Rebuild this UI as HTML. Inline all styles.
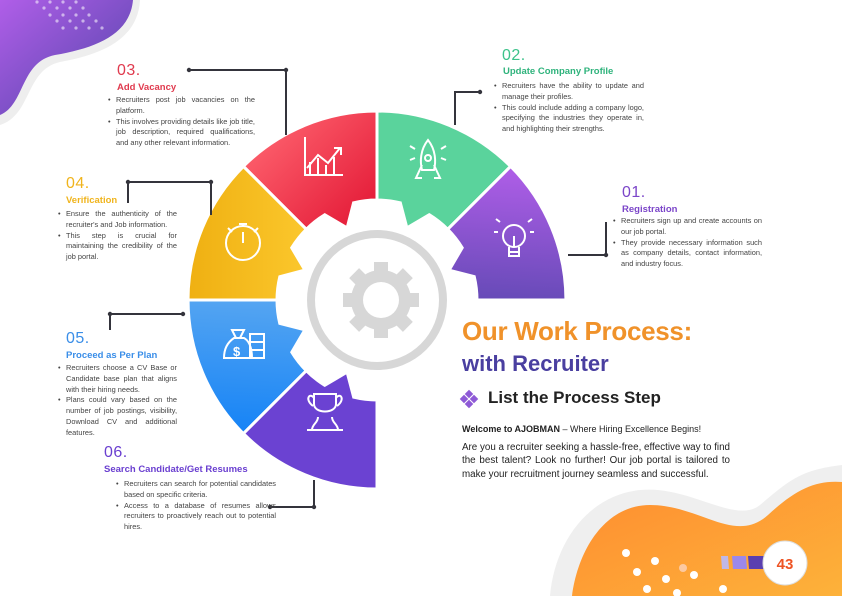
<!DOCTYPE html>
<html><head><meta charset="utf-8"><style>
body{margin:0;width:842px;height:596px;overflow:hidden;background:#fff;position:relative;font-family:"Liberation Sans",sans-serif;color:#444}
.abs{position:absolute}
.num{position:absolute;font-size:16px;font-weight:300;letter-spacing:.5px}
.tt{position:absolute;font-size:9.5px;font-weight:bold}
ul{position:absolute;margin:0;padding:0 0 0 8px;font-size:7.4px;line-height:10.8px;text-align:justify;color:#444}
li{list-style:none;position:relative}
li:before{content:"•";position:absolute;left:-8px}
</style></head><body>
<svg class="abs" style="left:0;top:0" width="842" height="596">
<defs>
<linearGradient id="gp" x1="0" y1="0" x2="1" y2="1"><stop offset="0" stop-color="#b05ee8"/><stop offset="1" stop-color="#4f44a8"/></linearGradient>
<linearGradient id="gp2" x1="0" y1="0" x2="1" y2="1"><stop offset="0" stop-color="#b05ee8"/><stop offset="1" stop-color="#4f44a8"/></linearGradient>
<linearGradient id="gr" x1="0" y1="0" x2="0" y2="1"><stop offset="0" stop-color="#fb5a68"/><stop offset="1" stop-color="#e51e3a"/></linearGradient>
<linearGradient id="gy" x1="0" y1="0" x2="0" y2="1"><stop offset="0" stop-color="#efb012"/><stop offset="1" stop-color="#fbc72c"/></linearGradient>
<linearGradient id="gb" x1="1" y1="1" x2="0" y2="0"><stop offset="0" stop-color="#6ab0f0"/><stop offset="1" stop-color="#1583f6"/></linearGradient>
<linearGradient id="go" x1="0" y1="0" x2="1" y2="1"><stop offset="0" stop-color="#fe8c30"/><stop offset="1" stop-color="#fdb23a"/></linearGradient>
<path id="seg" d="M0,-189 A189,189 0 0 1 133.6,-133.6 L70.7,-70.7 A100,100 0 0 0 52.2,-85.3 L29.9,-72.1 L23.3,-97.2 A100,100 0 0 0 0,-100 Z"/>
</defs>
<path d="M0,0 H140 C138,40 100,55 60,62 C25,70 32,115 0,125 Z" fill="#eee"/>
<path d="M0,0 H133 C130,35 95,48 55,55 C20,62 25,105 0,115 Z" fill="url(#gp)"/>
<g fill="#fff" opacity=".55">
<circle cx="37" cy="2" r="1.6"/><circle cx="50" cy="2" r="1.6"/><circle cx="63" cy="2" r="1.6"/><circle cx="76" cy="2" r="1.6"/>
<circle cx="44" cy="8" r="1.6"/><circle cx="57" cy="8" r="1.6"/><circle cx="70" cy="8" r="1.6"/><circle cx="83" cy="8" r="1.6"/>
<circle cx="50" cy="15" r="1.6"/><circle cx="63" cy="15" r="1.6"/><circle cx="76" cy="15" r="1.6"/><circle cx="89" cy="15" r="1.6"/>
<circle cx="57" cy="21" r="1.6"/><circle cx="70" cy="21" r="1.6"/><circle cx="83" cy="21" r="1.6"/><circle cx="96" cy="21" r="1.6"/>
<circle cx="63" cy="28" r="1.6"/><circle cx="76" cy="28" r="1.6"/><circle cx="89" cy="28" r="1.6"/><circle cx="102" cy="28" r="1.6"/>
</g>
<path d="M550,596 C555,540 590,495 640,490 C690,485 735,525 760,505 C790,480 800,470 842,465 V596 Z" fill="#efefef"/>
<path d="M572,596 C578,550 605,505 650,505 C700,505 735,545 768,515 C795,490 815,480 842,482 V596 Z" fill="url(#go)"/>
<g fill="#fff"><circle cx="626" cy="553" r="4"/><circle cx="655" cy="561" r="4"/><circle cx="637" cy="572" r="4"/><circle cx="666" cy="579" r="4"/><circle cx="647" cy="589" r="4"/><circle cx="694" cy="575" r="4"/><circle cx="677" cy="593" r="4"/><circle cx="723" cy="589" r="4"/></g>
<circle cx="683" cy="568" r="4" fill="#fcc9a0"/>
<polygon points="721,556 728,556 729,569 722,569" fill="#c0b8e8"/>
<polygon points="732,556 746,556 747,569 733,569" fill="#9c88ea"/>
<polygon points="748,556 764,556 765,569 749,569" fill="#5a3fb0"/>
<circle cx="785" cy="563" r="22" fill="#fff" stroke="#ddd"/>
<text x="785" y="569" text-anchor="middle" font-size="15" font-weight="bold" fill="#ee5424" font-family="Liberation Sans">43</text>
<g transform="translate(377,300)" stroke="#fff" stroke-width="3">
<use href="#seg" fill="#5ad39c"/>
<use href="#seg" transform="rotate(45)" fill="url(#gp2)"/>
<use href="#seg" transform="rotate(-45)" fill="url(#gr)"/>
<use href="#seg" transform="rotate(-90)" fill="url(#gy)"/>
<use href="#seg" transform="rotate(-135)" fill="url(#gb)"/>
<use href="#seg" transform="rotate(180)" fill="#6b42d2"/>
</g>
<circle cx="377" cy="300" r="66" fill="none" stroke="#d7d7d7" stroke-width="8"/>
<g transform="translate(381,300)" fill="#d7d7d7">
<circle r="30"/>
<g><rect x="-7" y="-38" width="14" height="12"/><rect x="-7" y="26" width="14" height="12"/><rect x="-38" y="-7" width="12" height="14"/><rect x="26" y="-7" width="12" height="14"/>
<g transform="rotate(45)"><rect x="-7" y="-38" width="14" height="12"/><rect x="-7" y="26" width="14" height="12"/><rect x="-38" y="-7" width="12" height="14"/><rect x="26" y="-7" width="12" height="14"/></g></g>
<circle r="18" fill="#fff"/>
</g>
<g stroke="#fff" stroke-width="2" fill="none">
<path d="M305,137 V175 H343 M307,168 L318,155 L328,163 L340,148 M334,148 H341 V155"/>
<path d="M310,175 V162 M318,175 V158 M326,175 V165 M334,175 V157"/>
<path d="M428,140 C420,150 420,162 422,170 H434 C436,162 436,150 428,140 Z M422,165 L416,178 H422 M434,165 L440,178 H434"/><circle cx="428" cy="158" r="3"/>
<path d="M410,146 L415,149 M446,146 L441,149 M410,160 L415,158 M446,160 L441,158"/>
<circle cx="514" cy="236" r="11"/><path d="M509,247 V256 H519 V247 M509,252 H519 M514,236 V247 M498,232 H494 M530,232 H534 M500,222 L496,219 M528,222 L532,219"/>
<circle cx="243" cy="243" r="17"/><path d="M243,243 V232 M239,224 H247 M243,224 V226 M228,228 L232,232 M258,228 L254,232"/>
<path d="M224,358 C224,345 231,340 234,338 H244 C248,340 252,346 252,358 Z" /><path d="M232,330 L244,330 L240,338 H236 Z"/>
<rect x="250" y="334" width="14" height="8"/><rect x="250" y="342" width="14" height="8"/><rect x="250" y="350" width="14" height="8"/>
<path d="M307,430 H343 M312,430 C312,424 318,423 318,417 M338,430 C338,424 332,423 332,417 M313,406 C304,399 310,392 314,398 M337,406 C346,399 340,392 336,398 M314,394 H336 V404 C336,414 314,414 314,404 Z"/>
</g>
<text x="233" y="356" font-size="13" font-weight="bold" fill="#fff" font-family="Liberation Sans">$</text>
<g stroke="#34343c" stroke-width="2" fill="none">
<path d="M189,70 H286 V135"/><path d="M128,203 V182 H211 V215"/>
<path d="M480,92 H455 V125"/><path d="M606,222 V255 H568"/>
<path d="M110,330 V314 H183"/><path d="M270,507 H314 V480"/>
</g>
<g fill="#34343c"><circle cx="189" cy="70" r="2.2"/><circle cx="286" cy="70" r="2.2"/><circle cx="128" cy="182" r="2.2"/><circle cx="211" cy="182" r="2.2"/><circle cx="480" cy="92" r="2.2"/><circle cx="606" cy="255" r="2.2"/><circle cx="110" cy="314" r="2.2"/><circle cx="183" cy="314" r="2.2"/><circle cx="270" cy="507" r="2.2"/><circle cx="314" cy="507" r="2.2"/></g>
<g fill="#8e5ad6"><rect x="466" y="391" width="6" height="6" transform="rotate(45 469 394)"/><rect x="471" y="396" width="6" height="6" transform="rotate(45 474 399)"/><rect x="466" y="401" width="6" height="6" transform="rotate(45 469 404)"/><rect x="461" y="396" width="6" height="6" transform="rotate(45 464 399)"/></g>
</svg>

<div class="num" style="left:117px;top:62px;color:#e03a4e">03.</div>
<div class="tt" style="left:117px;top:82px;color:#e03a4e">Add Vacancy</div>
<ul style="left:108px;top:95px;width:139px"><li>Recruiters post job vacancies on the platform.</li><li>This involves providing details like job title, job description, required qualifications, and any other relevant information.</li></ul>

<div class="num" style="left:502px;top:47px;color:#3cc28a">02.</div>
<div class="tt" style="left:503px;top:66px;color:#2fb37c">Update Company Profile</div>
<ul style="left:494px;top:81px;width:142px"><li>Recruiters have the ability to update and manage their profiles.</li><li>This could include adding a company logo, specifying the industries they operate in, and highlighting their strengths.</li></ul>

<div class="num" style="left:622px;top:184px;color:#7b45c9">01.</div>
<div class="tt" style="left:622px;top:204px;color:#7b45c9">Registration</div>
<ul style="left:613px;top:216px;width:141px"><li>Recruiters sign up and create accounts on our job portal.</li><li>They provide necessary information such as company details, contact information, and industry focus.</li></ul>

<div class="num" style="left:66px;top:175px;color:#f0b41c">04.</div>
<div class="tt" style="left:66px;top:195px;color:#f0b41c">Verification</div>
<ul style="left:58px;top:209px;width:111px"><li>Ensure the authenticity of the recruiter's and Job information.</li><li>This step is crucial for maintaining the credibility of the job portal.</li></ul>

<div class="num" style="left:66px;top:330px;color:#3a8ee8">05.</div>
<div class="tt" style="left:66px;top:350px;color:#3a8ee8">Proceed as Per Plan</div>
<ul style="left:58px;top:363px;width:111px"><li>Recruiters choose a CV Base or Candidate base plan that aligns with their hiring needs.</li><li>Plans could vary based on the number of job postings, visibility, Download CV and additional features.</li></ul>

<div class="num" style="left:104px;top:444px;color:#6a3fd0">06.</div>
<div class="tt" style="left:104px;top:464px;color:#6a3fd0">Search Candidate/Get Resumes</div>
<ul style="left:116px;top:479px;width:152px"><li>Recruiters can search for potential candidates based on specific criteria.</li><li>Access to a database of resumes allows recruiters to proactively reach out to potential hires.</li></ul>

<div class="abs" style="left:462px;top:316px;font-size:26px;font-weight:bold;color:#f0922a;letter-spacing:-.3px">Our Work Process:</div>
<div class="abs" style="left:462px;top:351px;font-size:22px;font-weight:bold;color:#4a3fa0">with Recruiter</div>
<div class="abs" style="left:488px;top:388px;font-size:17px;font-weight:bold;color:#222">List the Process Step</div>
<div class="abs" style="left:462px;top:424px;font-size:9px;color:#222"><b>Welcome to AJOBMAN</b> – Where Hiring Excellence Begins!</div>
<div class="abs" style="left:462px;top:441px;width:268px;font-size:9.8px;line-height:13.3px;text-align:justify;color:#222">Are you a recruiter seeking a hassle-free, effective way to find the best talent? Look no further! Our job portal is tailored to make your recruitment journey seamless and successful.</div>
</body></html>
